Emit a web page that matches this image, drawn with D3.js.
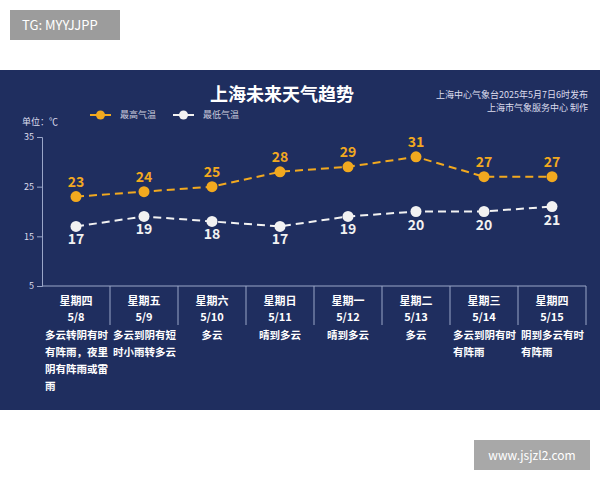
<!DOCTYPE html>
<html><head><meta charset="utf-8">
<script src="https://cdn.jsdelivr.net/npm/d3@7"></script>
<style>body{margin:0;background:#fff}text{font-family:"Noto Sans CJK SC","Noto Sans",sans-serif}</style>
</head><body><div id="chart"></div>
<script>
var days = ["星期四","星期五","星期六","星期日","星期一","星期二","星期三","星期四"];
var dates = ["5/8","5/9","5/10","5/11","5/12","5/13","5/14","5/15"];
var highs = [23,24,25,28,29,31,27,27];
var lows = [17,19,18,17,19,20,20,21];
var weather = [
  ["多云转阴有时","有阵雨，夜里","阴有阵雨或雷","雨"],
  ["多云到阴有短","时小雨转多云"],
  ["多云"],["晴到多云"],["晴到多云"],["多云"],
  ["多云到阴有时","有阵雨"],["阴到多云有时","有阵雨"]];
var yTicks = [5,15,25,35];

var svg = d3.select("#chart").append("svg").attr("width",600).attr("height",480);
svg.append("rect").attr("x",10).attr("y",10).attr("width",110).attr("height",30).attr("fill","#9c9c9c");
svg.append("text").attr("x",22).attr("y",30).attr("fill","#fff").attr("font-size",13).text("TG: MYYJJPP");
svg.append("rect").attr("x",0).attr("y",70).attr("width",600).attr("height",340).attr("fill","#1f2e5f");
svg.append("rect").attr("x",474).attr("y",440).attr("width",116).attr("height",30).attr("fill","#a8a8a8");
svg.append("text").attr("x",532).attr("y",460).attr("text-anchor","middle").attr("fill","#fff").attr("font-size",12).text("www.jsjzl2.com");

svg.append("text").attr("x",282).attr("y",101).attr("text-anchor","middle").attr("fill","#fff")
  .attr("font-size",18).attr("font-weight","bold").text("上海未来天气趋势");
svg.append("text").attr("x",588).attr("y",98).attr("text-anchor","end").attr("fill","#dde").attr("font-size",9).text("上海中心气象台2025年5月7日6时发布");
svg.append("text").attr("x",588).attr("y",111).attr("text-anchor","end").attr("fill","#dde").attr("font-size",9).text("上海市气象服务中心 制作");
svg.append("text").attr("x",22).attr("y",125).attr("fill","#dde").attr("font-size",9).text("单位：℃");

var orange = "#f2a91f", white = "#f2f2f2";
[[90,orange,"最高气温"],[173,white,"最低气温"]].forEach(function(l){
  svg.append("line").attr("x1",l[0]).attr("x2",l[0]+21).attr("y1",115).attr("y2",115).attr("stroke",l[1]).attr("stroke-width",2);
  svg.append("circle").attr("cx",l[0]+10.5).attr("cy",115).attr("r",4.5).attr("fill",l[1]);
  svg.append("text").attr("x",l[0]+30).attr("y",118).attr("fill","#ccd").attr("font-size",9).text(l[2]);
});

var x = d3.scaleBand().domain(dates).range([42,586]);
var y = d3.scaleLinear().domain([5,35]).range([286,137]);

svg.append("g").attr("transform","translate(42,0)")
  .call(d3.axisLeft(y).tickValues(yTicks).tickSize(5))
  .call(function(g){g.selectAll("path,line").attr("stroke","#9aa6c8");
    g.selectAll("text").attr("fill","#dde").attr("font-size",9);});
svg.append("line").attr("x1",42).attr("x2",586).attr("y1",286).attr("y2",286).attr("stroke","#9aa6c8");
dates.forEach(function(d,i){
  var x0 = x(d), cx = x0 + x.bandwidth()/2;
  svg.append("line").attr("x1",x0+x.bandwidth()).attr("x2",x0+x.bandwidth()).attr("y1",286).attr("y2",325).attr("stroke","#9aa6c8");
  svg.append("text").attr("x",cx).attr("y",305).attr("text-anchor","middle").attr("fill","#fff").attr("font-size",11).attr("font-weight","bold").text(days[i]);
  svg.append("text").attr("x",cx).attr("y",321).attr("text-anchor","middle").attr("fill","#fff").attr("font-size",11).attr("font-weight","bold").text(d);
  weather[i].forEach(function(t,j){
    var single = weather[i].length == 1;
    svg.append("text").attr("x",single?cx:x0+3).attr("y",339+j*17).attr("text-anchor",single?"middle":"start")
      .attr("fill","#fff").attr("font-size",10.5).attr("font-weight","bold").text(t);
  });
});

function series(vals,color,above){
  var line = d3.line().x(function(d,i){return x(dates[i])+x.bandwidth()/2;}).y(function(d){return y(d);});
  svg.append("path").datum(vals).attr("d",line).attr("fill","none").attr("stroke",color)
    .attr("stroke-width",2).attr("stroke-dasharray","8,5");
  vals.forEach(function(v,i){
    var cx = x(dates[i])+x.bandwidth()/2;
    svg.append("circle").attr("cx",cx).attr("cy",y(v)).attr("r",5.5).attr("fill",color);
    svg.append("text").attr("x",cx).attr("y",above?y(v)-10:y(v)+18).attr("text-anchor","middle")
      .attr("fill",color).attr("font-size",14).attr("font-weight","bold").text(v);
  });
}
series(highs,orange,true);
series(lows,white,false);
</script></body></html>
